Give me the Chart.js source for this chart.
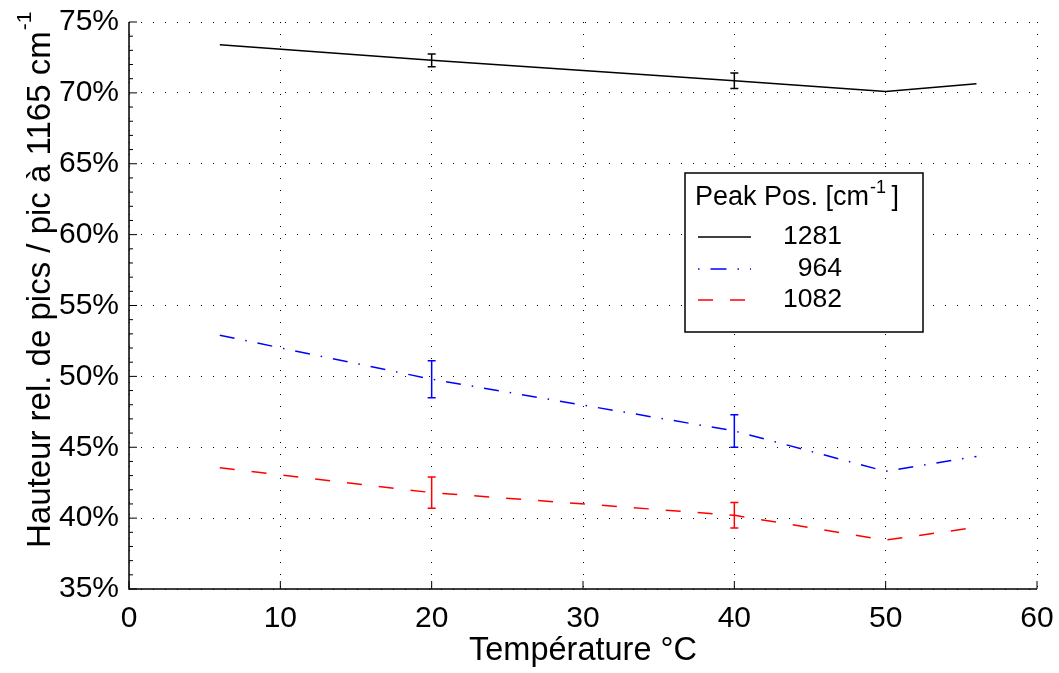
<!DOCTYPE html>
<html>
<head>
<meta charset="utf-8">
<script src="https://cdn.jsdelivr.net/npm/chart.js@4"></script>
<style>
  html, body { margin: 0; padding: 0; background: #fff; }
  canvas { display: block; }
</style>
</head>
<body>
<canvas id="peakChart" width="1059" height="673"></canvas>
<script>
// ── Data ──────────────────────────────────────────────────────────────────
const temps   = [6, 20, 40, 50, 56];
const h1281   = [73.4, 72.3, 70.85, 70.1, 70.65];
const err1281 = [0, 0.45, 0.55, 0, 0];
const h964    = [52.9, 49.8, 46.15, 43.3, 44.35];
const err964  = [0, 1.3, 1.15, 0, 0];
const h1082   = [43.55, 41.8, 40.2, 38.45, 39.35];
const err1082 = [0, 1.1, 0.9, 0, 0];

const FONT = '"Liberation Sans", Arial, Helvetica, sans-serif';

const pts = arr => temps.map((t, i) => ({ x: t, y: arr[i] }));

// ── Axes with inward ticks, error bars, legend, y title ───────────────────
const extras = {
    id: 'extras',
    afterDatasetsDraw(chart) {
        const { ctx, chartArea: a, scales: { x, y } } = chart;
        ctx.save();

        // error bars
        chart.data.datasets.forEach(ds => {
            ctx.strokeStyle = ds.borderColor;
            ctx.lineWidth = 1.5;
            ds.data.forEach((p, i) => {
                const e = ds.errs[i];
                if (!e) return;
                const px = x.getPixelForValue(p.x);
                const y1 = y.getPixelForValue(p.y + e);
                const y2 = y.getPixelForValue(p.y - e);
                ctx.beginPath();
                ctx.moveTo(px, y1); ctx.lineTo(px, y2);
                ctx.moveTo(px - 4, y1); ctx.lineTo(px + 4, y1);
                ctx.moveTo(px - 4, y2); ctx.lineTo(px + 4, y2);
                ctx.stroke();
            });
        });

        // axis lines
        ctx.strokeStyle = '#000';
        ctx.lineWidth = 1.5;
        ctx.beginPath();
        ctx.moveTo(a.left, a.top); ctx.lineTo(a.left, a.bottom); ctx.lineTo(a.right, a.bottom);
        ctx.stroke();

        // y ticks: major every 5, minor every 1
        ctx.lineWidth = 1;
        ctx.beginPath();
        for (let v = 35; v <= 75; v++) {
            const py = y.getPixelForValue(v);
            ctx.moveTo(a.left, py);
            ctx.lineTo(a.left + (v % 5 === 0 ? 8 : 4), py);
        }
        // x ticks
        for (let v = 0; v <= 60; v += 10) {
            const px = x.getPixelForValue(v);
            ctx.moveTo(px, a.bottom);
            ctx.lineTo(px, a.bottom - 8);
        }
        ctx.stroke();

        // y axis title, with superscript
        ctx.translate(41, 548);
        ctx.rotate(-Math.PI / 2);
        ctx.fillStyle = '#000';
        ctx.textBaseline = 'middle';
        ctx.textAlign = 'left';
        ctx.font = '33px ' + FONT;
        const ytitle = 'Hauteur rel. de pics / pic à 1165 cm';
        ctx.fillText(ytitle, 0, 0);
        const w = ctx.measureText(ytitle).width;
        ctx.font = '21px ' + FONT;
        ctx.fillText('-1', w + 1, -16);
        ctx.restore();

        // legend box
        ctx.save();
        const lx = 685, ly = 173, lw = 238, lh = 159;
        ctx.fillStyle = '#fff';
        ctx.fillRect(lx, ly, lw, lh);
        ctx.strokeStyle = '#000';
        ctx.lineWidth = 1.5;
        ctx.strokeRect(lx, ly, lw, lh);

        ctx.fillStyle = '#000';
        ctx.textBaseline = 'middle';
        ctx.textAlign = 'left';
        ctx.font = '27px ' + FONT;
        const t1 = 'Peak Pos. [cm';
        ctx.fillText(t1, 695, 198);
        const tw = ctx.measureText(t1).width;
        ctx.font = '18px ' + FONT;
        ctx.fillText('-1', 695 + tw + 1, 188);
        ctx.font = '27px ' + FONT;
        ctx.fillText(' ]', 695 + tw + 15, 198);

        const rows = [237, 269, 300];
        chart.data.datasets.forEach((ds, i) => {
            ctx.strokeStyle = ds.borderColor;
            ctx.lineWidth = 1.5;
            ctx.setLineDash(ds.legendDash || []);
            ctx.beginPath();
            ctx.moveTo(698, rows[i]); ctx.lineTo(751, rows[i]);
            ctx.stroke();
            ctx.setLineDash([]);
            ctx.fillStyle = '#000';
            ctx.textAlign = 'right';
            ctx.font = '26.5px ' + FONT;
            ctx.fillText(ds.label, 842, rows[i]);
        });
        ctx.restore();
    }
};

// ── Chart ─────────────────────────────────────────────────────────────────
const ctx = document.getElementById('peakChart').getContext('2d');
const chart = new Chart(ctx, {
    type: 'line',
    data: {
        datasets: [
            { label: '1281', data: pts(h1281), errs: err1281, borderColor: '#000000', borderWidth: 1.5, pointRadius: 0, tension: 0, fill: false, legendDash: [] },
            { label: '964',  data: pts(h964),  errs: err964,  borderColor: '#0000ff', borderWidth: 1.5, pointRadius: 0, tension: 0, fill: false, borderDash: [15, 11, 1.5, 11], legendDash: [1.5, 11, 16, 11] },
            { label: '1082', data: pts(h1082), errs: err1082, borderColor: '#ff0000', borderWidth: 1.5, pointRadius: 0, tension: 0, fill: false, borderDash: [15, 17], legendDash: [15, 17] }
        ]
    },
    options: {
        responsive: false,
        devicePixelRatio: 1,
        animation: false,
        layout: { padding: { top: 22, right: 22, left: 0, bottom: 0 } },
        plugins: { legend: { display: false }, tooltip: { enabled: false } },
        scales: {
            x: {
                type: 'linear', min: 0, max: 60,
                ticks: { stepSize: 10, color: '#000', font: { family: FONT, size: 30 }, padding: 12, maxRotation: 0 },
                grid: { color: '#000', lineWidth: 1, drawTicks: false },
                border: { display: false, dash: [1, 11] },
                title: { display: true, text: 'Température °C', color: '#000', font: { family: FONT, size: 32.5, lineHeight: 1 }, padding: { top: 0, bottom: 6 } },
                afterFit: s => { s.height = 84; s.paddingLeft = 0; s.paddingRight = 0; }
            },
            y: {
                min: 35, max: 75,
                ticks: { stepSize: 5, color: '#000', font: { family: FONT, size: 30 }, padding: 10, callback: v => v + '%' },
                grid: { color: '#000', lineWidth: 1, drawTicks: false },
                border: { display: false, dash: [1, 11] },
                afterFit: s => { s.width = 129; s.paddingTop = 0; s.paddingBottom = 0; }
            }
        }
    },
    plugins: [extras]
});
</script>
</body>
</html>
